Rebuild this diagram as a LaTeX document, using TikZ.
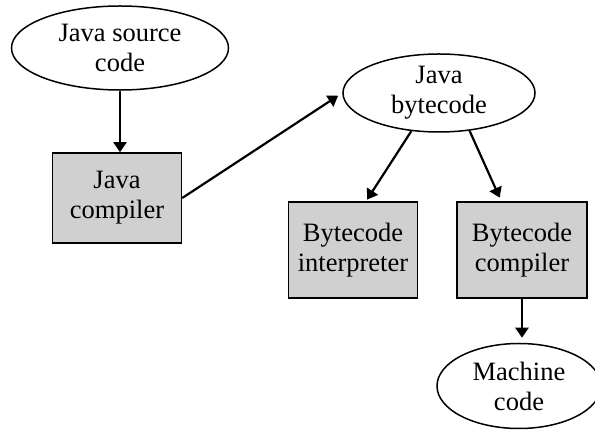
\documentclass[tikz,border=0pt]{standalone}
\usepackage{fontspec}
\setmainfont{Liberation Serif}
\usetikzlibrary{arrows.meta,shapes.geometric}
\definecolor{toolgray}{RGB}{208,208,208}

\begin{document}
\begin{tikzpicture}[x=1pt, y=1pt,
  every node/.style={font=\fontsize{26.5}{30}\selectfont, align=center, inner sep=0pt},
  datafile/.style={ellipse, draw, line width=1.5pt},
  toolbox/.style={rectangle, draw, line width=1.5pt, fill=toolgray},
  flow/.style={-{Triangle[length=10pt,width=13pt]}, line width=2.2pt}]
  \useasboundingbox (0,0) rectangle (595,430);
  % inputs and outputs are ellipses, tools are grey boxes
  \node[datafile, minimum width=217, minimum height=84] (src) at (120,382) {Java source\\code};
  \node[toolbox, minimum width=129, minimum height=90] (javac) at (117,232) {Java\\compiler};
  \node[datafile, minimum width=192, minimum height=78] (bytecode) at (439,337) {Java\\bytecode};
  \node[toolbox, minimum width=129, minimum height=96] (interp) at (353,180) {Bytecode\\interpreter};
  \node[toolbox, minimum width=130, minimum height=96] (bcc) at (522,180) {Bytecode\\compiler};
  \node[datafile, minimum width=164, minimum height=85] (mach) at (519,44) {Machine\\code};

  \draw[flow] (src.south) -- (src.south |- javac.north);
  \draw[flow, shorten >=5pt] (javac.east) -- (bytecode.west);
  \draw[flow, shorten >=2pt] (bytecode.-126) -- (interp.75);
  \draw[flow, shorten >=4pt] (bytecode.-51) -- (bcc.113);
  \draw[flow, shorten >=5pt] (bcc.south) -- (bcc.south |- mach.north);
\end{tikzpicture}
\end{document}
